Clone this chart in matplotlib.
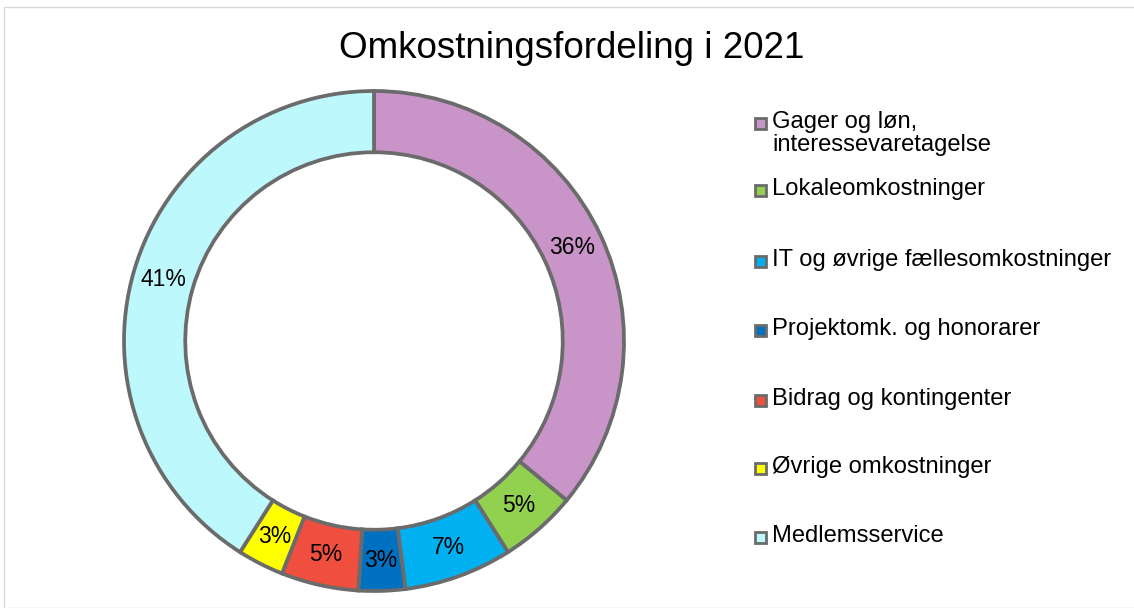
import matplotlib.pyplot as plt
from matplotlib.patches import Rectangle

# --- Data ---
categories = [
    "Gager og løn,\ninteressevaretagelse",
    "Lokaleomkostninger",
    "IT og øvrige fællesomkostninger",
    "Projektomk. og honorarer",
    "Bidrag og kontingenter",
    "Øvrige omkostninger",
    "Medlemsservice",
]
shares = [36, 5, 7, 3, 5, 3, 41]
colors = ["#C994C7", "#92D050", "#00B0F0", "#0070C0", "#F04E3E", "#FFFF00", "#BDF8FC"]
title = "Omkostningsfordeling i 2021"

plt.rcParams['font.family'] = ['Liberation Sans', 'DejaVu Sans']
EDGE = "#6b6b6b"

fig = plt.figure(figsize=(11.34, 6.08), dpi=100)
W, H = 1134, 608

# light frame round the chart area
fig.patches.append(Rectangle((4 / W, 0), 1.2, (H - 7) / H, transform=fig.transFigure,
                             fill=False, edgecolor="#d9d9d9", linewidth=1))

# donut axes: centre (374, 341) px, outer radius ~250 px
ax = fig.add_axes([119 / W, 12 / H, 510 / W, 510 / H])
wedges, _, autotexts = ax.pie(
    shares, colors=colors, startangle=90, counterclock=False, radius=1,
    autopct=lambda p: f"{p:.0f}%", pctdistance=0.877,
    wedgeprops=dict(width=0.245, edgecolor=EDGE, linewidth=2.7),
    textprops=dict(fontsize=16.5, color="black"))
ax.set_xlim(-1.02, 1.02)
ax.set_ylim(-1.02, 1.02)
ax.set_aspect("equal")
ax.axis("off")

fig.text(572 / W, 1 - 48 / H, title, ha="center", va="center", fontsize=26.5)

# --- Legend (manual, Excel-like spacing) ---
legend_y = [123, 190, 261, 330, 400, 468, 537]
for lab, col, y in zip(categories, colors, legend_y):
    fig.patches.append(Rectangle((755 / W, 1 - (y + 6) / H), 11 / W, 11 / H,
                                 transform=fig.transFigure, facecolor=col,
                                 edgecolor=EDGE, linewidth=2))
    fig.text(772 / W, 1 - (y - 12) / H, lab, ha="left", va="top", fontsize=17.1,
             linespacing=1.05)

fig.savefig("out.png", dpi=100)
